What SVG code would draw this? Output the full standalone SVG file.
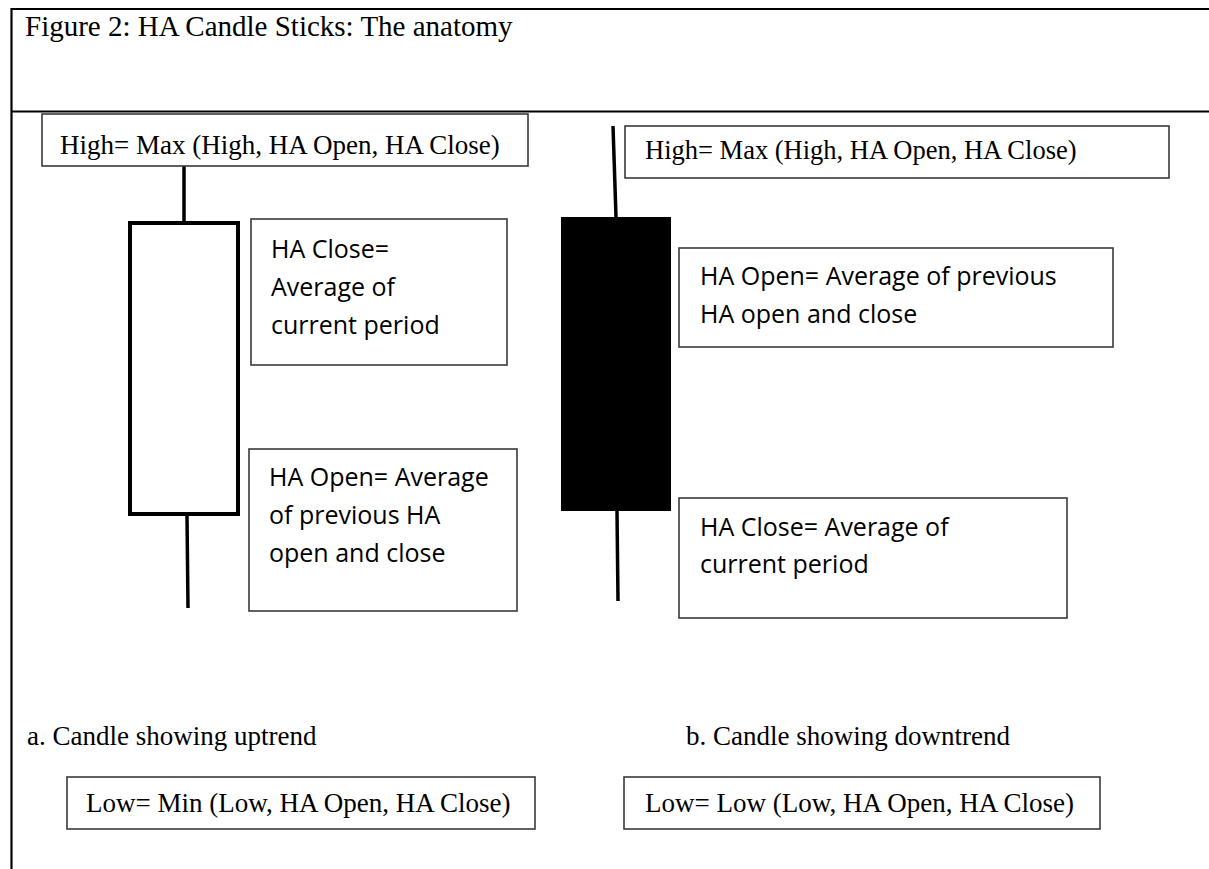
<svg xmlns="http://www.w3.org/2000/svg" width="1209" height="869" viewBox="0 0 1209 869">
<style>
.frame{stroke:#000;stroke-width:2.2;fill:none}
.box{fill:#fff;stroke:#3a3a3a;stroke-width:1.6}
.serif{font-family:"Liberation Serif","Times New Roman",serif;fill:#000}
.sans{font-family:"Open Sans",Lato,sans-serif;fill:#000;font-size:25px}
.wick{stroke:#000;stroke-width:3.5;fill:none}
</style>
<rect width="1209" height="869" fill="#fff"/>
<g id="frame">
<line class="frame" x1="11.5" y1="9" x2="1209" y2="9"/>
<line class="frame" x1="11.5" y1="111.5" x2="1209" y2="111.5"/>
<line class="frame" x1="11.5" y1="8" x2="11.5" y2="869"/>
</g>
<text class="serif" x="25" y="36" font-size="29">Figure 2: HA Candle Sticks: The anatomy</text>
<g id="connectors">
<line class="wick" x1="184" y1="166" x2="184" y2="223"/>
<line class="wick" x1="187" y1="516" x2="188" y2="608"/>
<line class="wick" x1="613" y1="126" x2="616" y2="217"/>
<line class="wick" x1="617" y1="511" x2="618" y2="601"/>
</g>
<g id="candle-up">
<rect x="130" y="223" width="108" height="291" fill="#fff" stroke="#000" stroke-width="4"/>
</g>
<g id="candle-down">
<rect x="561" y="217" width="110" height="294" fill="#000"/>
</g>
<g id="high-left">
<rect class="box" x="42" y="114" width="486" height="52"/>
<text class="serif" x="60" y="154" font-size="27">High= Max (High, HA Open, HA Close)</text>
</g>
<g id="high-right">
<rect class="box" x="625" y="126" width="544" height="52"/>
<text class="serif" x="645" y="159" font-size="26.5">High= Max (High, HA Open, HA Close)</text>
</g>
<g id="haclose-left">
<rect class="box" x="251" y="219" width="256" height="146"/>
<text class="sans" x="271" y="258">HA Close=</text>
<text class="sans" x="271" y="296">Average of</text>
<text class="sans" x="271" y="334">current period</text>
</g>
<g id="haopen-left">
<rect class="box" x="249" y="449" width="268" height="162"/>
<text class="sans" x="269" y="486">HA Open= Average</text>
<text class="sans" x="269" y="524">of previous HA</text>
<text class="sans" x="269" y="562">open and close</text>
</g>
<g id="haopen-right">
<rect class="box" x="679" y="248" width="434" height="99"/>
<text class="sans" x="700" y="285">HA Open= Average of previous</text>
<text class="sans" x="700" y="323">HA open and close</text>
</g>
<g id="haclose-right">
<rect class="box" x="679" y="498" width="388" height="120"/>
<text class="sans" x="700" y="536">HA Close= Average of</text>
<text class="sans" x="700" y="573">current period</text>
</g>
<text class="serif" x="27" y="745" font-size="27">a. Candle showing uptrend</text>
<text class="serif" x="686" y="745" font-size="27">b. Candle showing downtrend</text>
<g id="low-left">
<rect class="box" x="67" y="777" width="468" height="52"/>
<text class="serif" x="86" y="812" font-size="27">Low= Min (Low, HA Open, HA Close)</text>
</g>
<g id="low-right">
<rect class="box" x="624" y="777" width="476" height="52"/>
<text class="serif" x="645" y="812" font-size="27">Low= Low (Low, HA Open, HA Close)</text>
</g>
</svg>
